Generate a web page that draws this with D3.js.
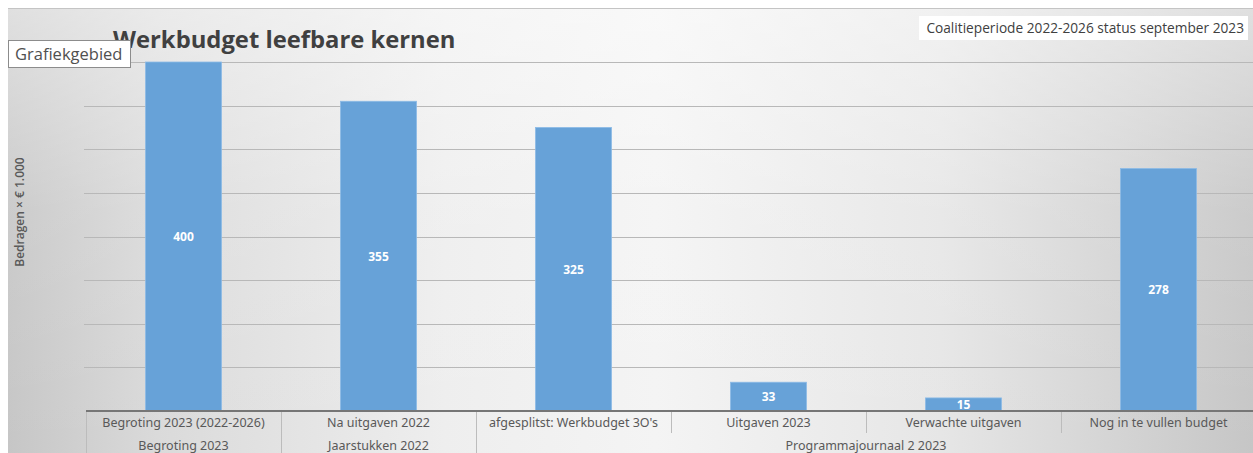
<!DOCTYPE html>
<html><head><meta charset="utf-8">
<script src="https://cdn.jsdelivr.net/npm/d3@7"></script>
<style>html,body{margin:0;padding:0;background:#fff;overflow:hidden}svg{display:block}</style>
</head><body>
<svg id="c" width="1253" height="453"></svg>
<script>
const categories = ["Begroting 2023 (2022-2026)", "Na uitgaven 2022", "afgesplitst: Werkbudget 3O's", "Uitgaven 2023", "Verwachte uitgaven", "Nog in te vullen budget"];
const values = [400, 355, 325, 33, 15, 278];
const groups = [
  {label: "Begroting 2023", from: 0, to: 0},
  {label: "Jaarstukken 2022", from: 1, to: 1},
  {label: "Programmajournaal 2 2023", from: 2, to: 5}
];
const yTicks = [0, 50, 100, 150, 200, 250, 300, 350, 400];

const W = 1253, H = 453;
const svg = d3.select("#c");
const defs = svg.append("defs");
const lg = defs.append("linearGradient").attr("id", "bgH").attr("x1", 0).attr("x2", 1).attr("y1", 0).attr("y2", 0);
[["0%", "#c6c6c6"], ["12%", "#dadada"], ["35%", "#eeeeee"], ["52%", "#f4f4f4"], ["75%", "#e6e6e6"], ["100%", "#c6c6c6"]]
  .forEach(s => lg.append("stop").attr("offset", s[0]).attr("stop-color", s[1]));
const vg = defs.append("linearGradient").attr("id", "bgV").attr("x1", 0).attr("x2", 0).attr("y1", 0).attr("y2", 1);
vg.append("stop").attr("offset", "0%").attr("stop-color", "#ffffff").attr("stop-opacity", 0.45);
vg.append("stop").attr("offset", "45%").attr("stop-color", "#ffffff").attr("stop-opacity", 0.1);
vg.append("stop").attr("offset", "100%").attr("stop-color", "#ffffff").attr("stop-opacity", 0);

svg.append("rect").attr("x", 8).attr("y", 8).attr("width", W - 8).attr("height", H - 8).attr("fill", "url(#bgH)");
svg.append("rect").attr("x", 8).attr("y", 8).attr("width", W - 8).attr("height", H - 8).attr("fill", "url(#bgV)");
svg.append("line").attr("x1", 8).attr("x2", W).attr("y1", 8.5).attr("y2", 8.5).attr("stroke", "#c4c4c4").attr("stroke-width", 1);

const x = d3.scaleBand().domain(categories).range([86, 1256]).paddingInner(0.61).paddingOuter(0.305);
const y = d3.scaleLinear().domain([0, 400]).range([411, 62]);
const step = x.step();
const bandStart = i => 86 + i * step;

// gridlines
svg.append("g").selectAll("line").data(yTicks.filter(d => d > 0)).join("line")
  .attr("x1", 84).attr("x2", W).attr("y1", d => Math.round(y(d)) + 0.5).attr("y2", d => Math.round(y(d)) + 0.5)
  .attr("stroke", "#b8b8b8").attr("stroke-width", 1);

// bars
svg.append("g").selectAll("rect").data(values).join("rect")
  .attr("x", (d, i) => x(categories[i])).attr("width", x.bandwidth())
  .attr("y", d => y(d)).attr("height", d => y(0) - y(d))
  .attr("fill", "#67a2d8").attr("stroke", "#8dbbe6").attr("stroke-width", 0.8);

// data labels
svg.append("g").selectAll("text").data(values).join("text")
  .attr("x", (d, i) => x(categories[i]) + x.bandwidth() / 2)
  .attr("y", d => (y(d) + y(0)) / 2 + 4.5)
  .attr("text-anchor", "middle").attr("fill", "#fff")
  .attr("font-family", "'Open Sans', sans-serif").attr("font-weight", "bold").attr("font-size", 12)
  .text(d => d);

// axis line
svg.append("line").attr("x1", 86).attr("x2", W).attr("y1", 411).attr("y2", 411).attr("stroke", "#767676").attr("stroke-width", 2);

// category separators (row 1)
const sepG = svg.append("g").attr("stroke", "#bcbcbc").attr("stroke-width", 1);
d3.range(categories.length).forEach(i => {
  if (i === 0) return;
  sepG.append("line").attr("x1", Math.round(bandStart(i)) + 0.5).attr("x2", Math.round(bandStart(i)) + 0.5).attr("y1", 412).attr("y2", 433);
});
// group separators (row 2)
groups.forEach(g => {
  const xs = Math.round(bandStart(g.from)) + 0.5;
  sepG.append("line").attr("x1", xs).attr("x2", xs).attr("y1", 412).attr("y2", H);
});

const lblFont = "'Noto Sans', sans-serif";
svg.append("g").selectAll("text").data(categories).join("text")
  .attr("x", d => x(d) + x.bandwidth() / 2).attr("y", 427)
  .attr("text-anchor", "middle").attr("fill", "#595959")
  .attr("font-family", lblFont).attr("font-size", 12.5).text(d => d);

svg.append("g").selectAll("text").data(groups).join("text")
  .attr("x", g => (bandStart(g.from) + bandStart(g.to + 1)) / 2).attr("y", 450)
  .attr("text-anchor", "middle").attr("fill", "#595959")
  .attr("font-family", lblFont).attr("font-size", 12.5).text(g => g.label);

// y axis title
svg.append("text").attr("transform", "translate(24,212) rotate(-90)")
  .attr("text-anchor", "middle").attr("fill", "#595959")
  .attr("font-family", "'Open Sans', sans-serif").attr("font-weight", "600").attr("font-size", 12)
  .text("Bedragen × € 1.000");

// title
svg.append("text").attr("x", 113).attr("y", 48)
  .attr("fill", "#404040").attr("font-family", "'Open Sans', sans-serif").attr("font-weight", "bold").attr("font-size", 23.8)
  .text("Werkbudget leefbare kernen");

// subtitle box
const sb = svg.append("g");
sb.append("rect").attr("x", 919).attr("y", 16).attr("width", 329).attr("height", 24).attr("fill", "#fff");
sb.append("text").attr("x", 1244).attr("y", 33).attr("text-anchor", "end")
  .attr("fill", "#404040").attr("font-family", "'Open Sans', sans-serif").attr("font-size", 13.7)
  .text("Coalitieperiode 2022-2026 status september 2023");

// tooltip box
const tb = svg.append("g");
tb.append("rect").attr("x", 8.5).attr("y", 40.5).attr("width", 122).attr("height", 27).attr("fill", "#fff").attr("stroke", "#8c8c8c");
tb.append("text").attr("x", 15).attr("y", 60).attr("fill", "#505050")
  .attr("font-family", "'Open Sans', sans-serif").attr("font-size", 16.5).text("Grafiekgebied");
</script>
</body></html>
